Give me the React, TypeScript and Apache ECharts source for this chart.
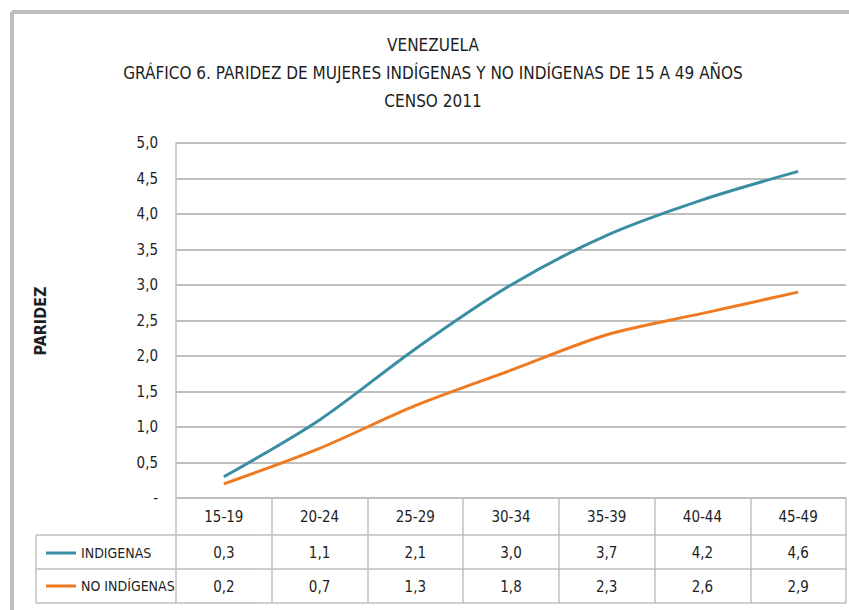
import React, { useEffect, useRef } from "react";
import * as echarts from "echarts";

const categories = ["15-19", "20-24", "25-29", "30-34", "35-39", "40-44", "45-49"];
const indigenas = [0.3, 1.1, 2.1, 3.0, 3.7, 4.2, 4.6];
const noIndigenas = [0.2, 0.7, 1.3, 1.8, 2.3, 2.6, 2.9];
const seriesNames = ["INDIGENAS", "NO INDÍGENAS"];
const titleLines = [
  "VENEZUELA",
  "GRÁFICO 6. PARIDEZ DE MUJERES INDÍGENAS Y NO INDÍGENAS DE 15 A 49 AÑOS",
  "CENSO 2011",
];
const yAxisTitle = "PARIDEZ";

const FONT = "'Liberation Sans Narrow', 'Arial Narrow', 'DejaVu Sans Condensed', sans-serif";
const TEXT = "#1e1e1e";
const LINE = "#bfbfbf";
const BLUE = "#3a8ea4";
const ORANGE = "#ee7a22";

const fmt = (v: number) => v.toFixed(1).replace(".", ",");

export default function App() {
  const ref = useRef<HTMLDivElement>(null);
  useEffect(() => {
    if (!ref.current) return;
    const chart = echarts.init(ref.current, null, { renderer: "svg" });
    const tableAxis = (data: string[], offset: number, tickLen: number, margin: number, showLabel = true, showTick = true) => ({
      type: "category",
      data,
      position: "bottom",
      offset,
      boundaryGap: true,
      axisLine: { show: true, lineStyle: { color: LINE, width: 1.5 } },
      axisTick: { show: showTick, length: tickLen, interval: 0, lineStyle: { color: LINE, width: 1.5 } },
      axisLabel: { show: showLabel, interval: 0, margin, fontFamily: FONT, fontSize: 15, color: TEXT },
      splitLine: { show: false },
    });
    chart.setOption({
      animation: false,
      backgroundColor: "#ffffff",
      grid: { left: 176, right: 3, top: 143, bottom: 112, containLabel: false },
      graphic: [
        ...titleLines.map((t, i) => ({
          type: "text",
          x: 433,
          y: 45 + i * 28,
          style: { text: t, fontFamily: FONT, fontSize: 17, fill: TEXT, textAlign: "center", textVerticalAlign: "middle" },
        })),
        {
          type: "text",
          x: 40,
          y: 321,
          rotation: Math.PI / 2,
          style: { text: yAxisTitle, fontFamily: FONT, fontSize: 16, fontWeight: "bold", fill: TEXT, textAlign: "center", textVerticalAlign: "middle" },
        },
        { type: "line", shape: { x1: 12, y1: 12, x2: 849, y2: 12 }, style: { stroke: "#bdbdbd", lineWidth: 4 } },
        { type: "line", shape: { x1: 12, y1: 12, x2: 12, y2: 610 }, style: { stroke: "#bdbdbd", lineWidth: 4 } },
        { type: "line", shape: { x1: 36, y1: 535, x2: 176, y2: 535 }, style: { stroke: LINE, lineWidth: 1.5 } },
        { type: "line", shape: { x1: 36, y1: 569, x2: 176, y2: 569 }, style: { stroke: LINE, lineWidth: 1.5 } },
        { type: "line", shape: { x1: 36, y1: 603, x2: 176, y2: 603 }, style: { stroke: LINE, lineWidth: 1.5 } },
        { type: "line", shape: { x1: 36, y1: 535, x2: 36, y2: 603 }, style: { stroke: LINE, lineWidth: 1.5 } },
      ],
      legend: {
        data: seriesNames,
        orient: "vertical",
        left: 41,
        top: 540,
        itemGap: 17,
        icon: "rect",
        itemWidth: 30,
        itemHeight: 3,
        textStyle: { fontFamily: FONT, fontSize: 14, lineHeight: 16, color: TEXT },
      },
      xAxis: [
        tableAxis(categories, 0, 37, 11),
        tableAxis(indigenas.map(fmt), 37, 34, 10),
        tableAxis(noIndigenas.map(fmt), 71, 34, 10),
        tableAxis(categories, 105, 0, 0, false, false),
      ],
      yAxis: {
        type: "value",
        min: 0,
        max: 5,
        interval: 0.5,
        axisLine: { show: true, lineStyle: { color: LINE, width: 1.5 } },
        axisTick: { show: false },
        axisLabel: {
          margin: 18,
          fontFamily: FONT,
          fontSize: 15,
          color: TEXT,
          formatter: (v: number) => (v === 0 ? "-" : fmt(v)),
        },
        splitLine: { show: true, lineStyle: { color: LINE, width: 2 } },
      },
      series: [
        {
          name: seriesNames[0],
          type: "line",
          data: indigenas,
          xAxisIndex: 0,
          smooth: 0.3,
          showSymbol: false,
          lineStyle: { color: BLUE, width: 3 },
          itemStyle: { color: BLUE },
        },
        {
          name: seriesNames[1],
          type: "line",
          data: noIndigenas,
          xAxisIndex: 0,
          smooth: 0.3,
          showSymbol: false,
          lineStyle: { color: ORANGE, width: 3 },
          itemStyle: { color: ORANGE },
        },
      ],
    });
    return () => chart.dispose();
  }, []);
  return <div ref={ref} style={{ position: "fixed", left: 0, top: 0, width: 849, height: 610 }} />;
}
